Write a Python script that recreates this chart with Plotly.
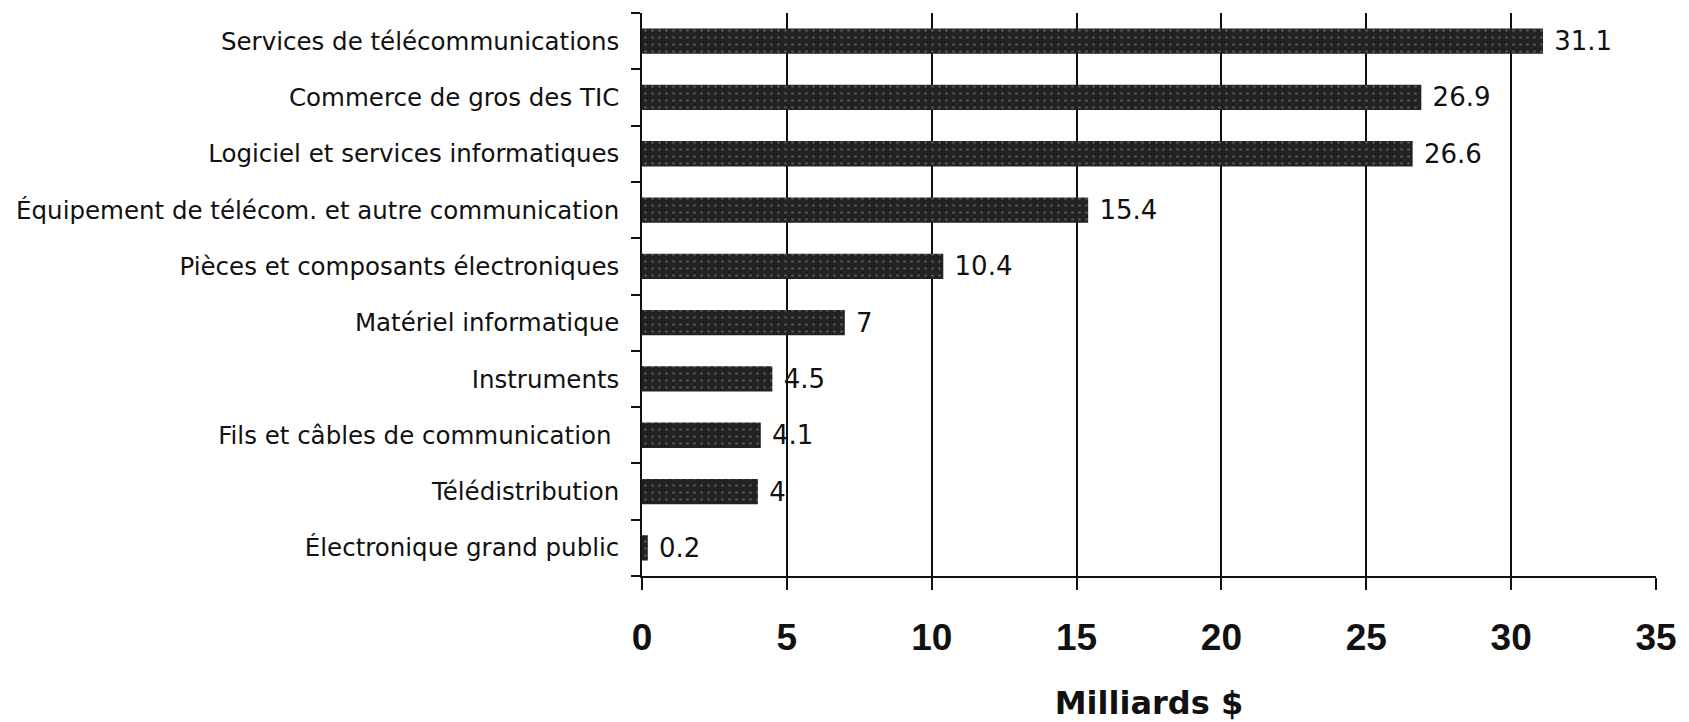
import plotly.graph_objects as go

categories = [
    "Services de télécommunications",
    "Commerce de gros des TIC",
    "Logiciel et services informatiques",
    "Équipement de télécom. et autre communication",
    "Pièces et composants électroniques",
    "Matériel informatique",
    "Instruments",
    "Fils et câbles de communication\u00a0",
    "Télédistribution",
    "Électronique grand public",
]
values = [31.1, 26.9, 26.6, 15.4, 10.4, 7, 4.5, 4.1, 4, 0.2]
value_labels = ["31.1", "26.9", "26.6", "15.4", "10.4", "7", "4.5", "4.1", "4", "0.2"]
x_ticks = [0, 5, 10, 15, 20, 25, 30, 35]
x_title = "Milliards $"

fig = go.Figure(
    go.Bar(
        x=values,
        y=categories,
        orientation="h",
        width=0.45,
        marker=dict(
            color="#222222",
            line=dict(width=0),
            pattern=dict(shape=".", fgcolor="#8a8a8a", bgcolor="#222222",
                         size=7, solidity=0.12, fillmode="overlay"),
        ),
        text=["\u00a0" + t for t in value_labels],
        textposition="outside",
        constraintext="none",
        cliponaxis=False,
        textfont=dict(family="DejaVu Sans", size=26, color="#111"),
    )
)

# page body has an 8px default margin, so the figure is 8px smaller
fig.update_layout(
    width=1681,
    height=714,
    margin=dict(l=634, r=33, t=5, b=146),
    paper_bgcolor="white",
    plot_bgcolor="white",
    showlegend=False,
)

fig.update_xaxes(
    automargin=False,
    range=[0, 35],
    tickvals=x_ticks,
    ticktext=[str(v) for v in x_ticks],
    showgrid=True,
    gridcolor="#111",
    gridwidth=1.6,
    zeroline=False,
    showline=True,
    linecolor="#111",
    linewidth=1.6,
    ticks="outside",
    ticklen=12,
    tickwidth=1.6,
    tickcolor="#111",
    tickfont=dict(family="Liberation Sans", size=37, color="#111", weight="bold"),
    ticklabelstandoff=16,
    title=dict(text=x_title, font=dict(family="DejaVu Sans", size=32, color="#111", weight="bold"),
               standoff=49),
)

fig.update_yaxes(
    automargin=False,
    categoryorder="array",
    categoryarray=list(reversed(categories)),
    autorange=False,
    range=[-0.5, len(categories) - 0.5],
    showgrid=False,
    zeroline=False,
    showline=True,
    linecolor="#111",
    linewidth=1.6,
    ticks="outside",
    tickson="boundaries",
    ticklen=9,
    tickwidth=1.6,
    tickcolor="#111",
    tickfont=dict(family="DejaVu Sans", size=24.5, color="#111"),
    ticklabelstandoff=16,
)

fig.write_html("out.html")
